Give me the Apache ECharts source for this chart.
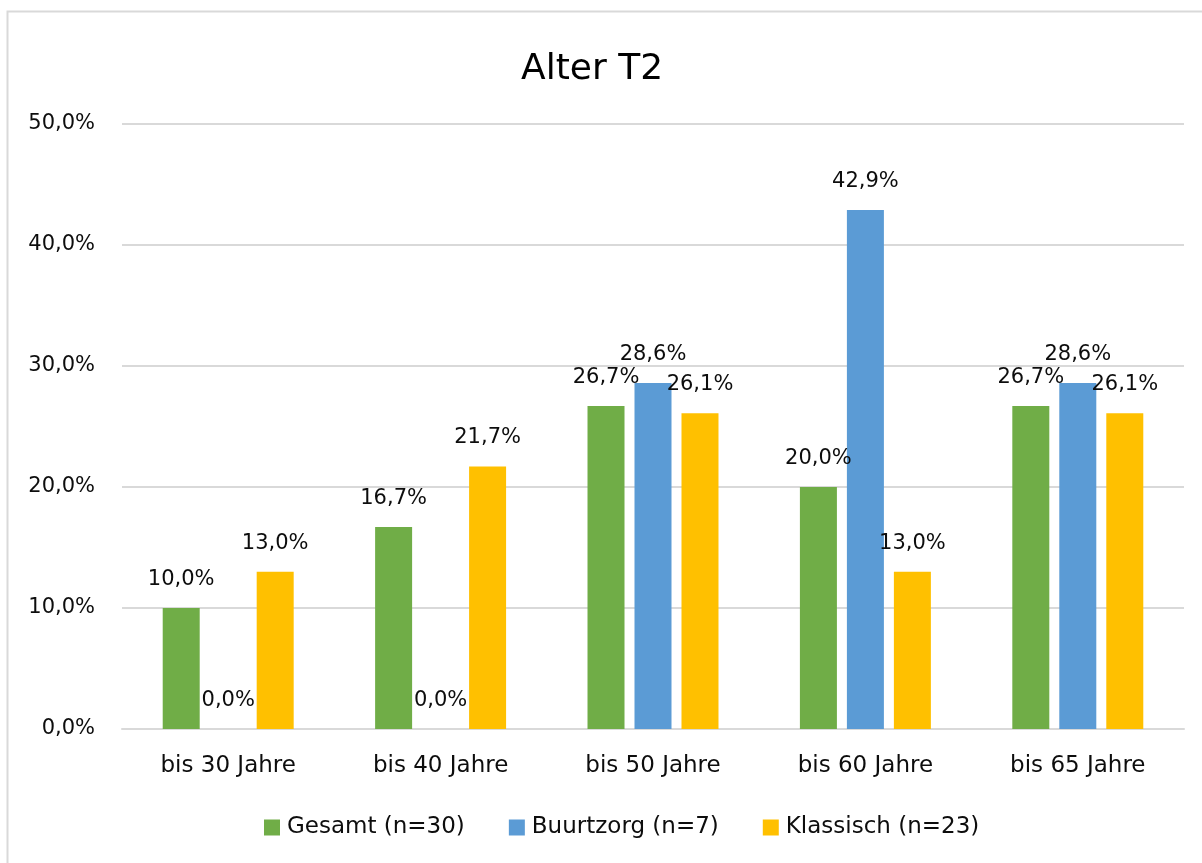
<!DOCTYPE html>
<html><head><meta charset="utf-8">
<script src="https://cdn.jsdelivr.net/npm/echarts@6/dist/echarts.min.js"></script>
<style>html,body{margin:0;padding:0;background:#fff}#c{width:1202px;height:863px}</style>
</head><body><div id="c"></div>
<script>
const categories = ['bis 30 Jahre','bis 40 Jahre','bis 50 Jahre','bis 60 Jahre','bis 65 Jahre'];
const seriesNames = ['Gesamt (n=30)','Buurtzorg (n=7)','Klassisch (n=23)'];
const gesamt = [10.0, 16.7, 26.7, 20.0, 26.7];
const buurtzorg = [0.0, 0.0, 28.6, 42.9, 28.6];
const klassisch = [13.0, 21.7, 26.1, 13.0, 26.1];
const yTicks = [0, 10, 20, 30, 40, 50];
const colors = ['#70ad47','#5b9bd5','#ffc000'];
const fmt = v => v.toFixed(1).replace('.', ',') + '%';
const FONT = 'DejaVu Sans';
const TXT = '#0d0d0d';
const chart = echarts.init(document.getElementById('c'));
function mk(name, data, color){
  return {name, type:'bar', data, barWidth:37, barGap:'27%',
    itemStyle:{color},
    label:{show:true, position:'top', distance:18, color:TXT, fontFamily:FONT, fontSize:21,
      formatter:p=>fmt(p.value)}};
}
chart.setOption({
  animation:false,
  textStyle:{fontFamily:FONT},
  graphic:[{type:'rect', shape:{x:7.5,y:11.5,width:1220,height:880}, style:{fill:'none',stroke:'#d9d9d9',lineWidth:2}, silent:true}],
  title:{text:'Alter T2', left:516, top:47, textStyle:{fontFamily:FONT, fontSize:36, fontWeight:'normal', color:'#000'}},
  legend:{top:811, left:259, itemWidth:16, itemHeight:16, itemGap:44, icon:'rect',
    textStyle:{fontFamily:FONT, fontSize:23, color:TXT, padding:[0,0,0,2]}},
  grid:{left:122, right:18, top:124, bottom:134},
  xAxis:{type:'category', data:categories, axisTick:{show:false},
    axisLine:{lineStyle:{color:'#d9d9d9', width:2}},
    axisLabel:{fontFamily:FONT, fontSize:23, color:TXT, margin:26}},
  yAxis:{type:'value', min:yTicks[0], max:yTicks[yTicks.length-1], interval:yTicks[1]-yTicks[0],
    axisLine:{show:false}, axisTick:{show:false},
    splitLine:{lineStyle:{color:'#d9d9d9', width:2}},
    axisLabel:{fontFamily:FONT, fontSize:21, color:TXT, margin:27, formatter:v=>fmt(v)}},
  series:[mk(seriesNames[0],gesamt,colors[0]), mk(seriesNames[1],buurtzorg,colors[1]), mk(seriesNames[2],klassisch,colors[2])]
});
</script></body></html>
